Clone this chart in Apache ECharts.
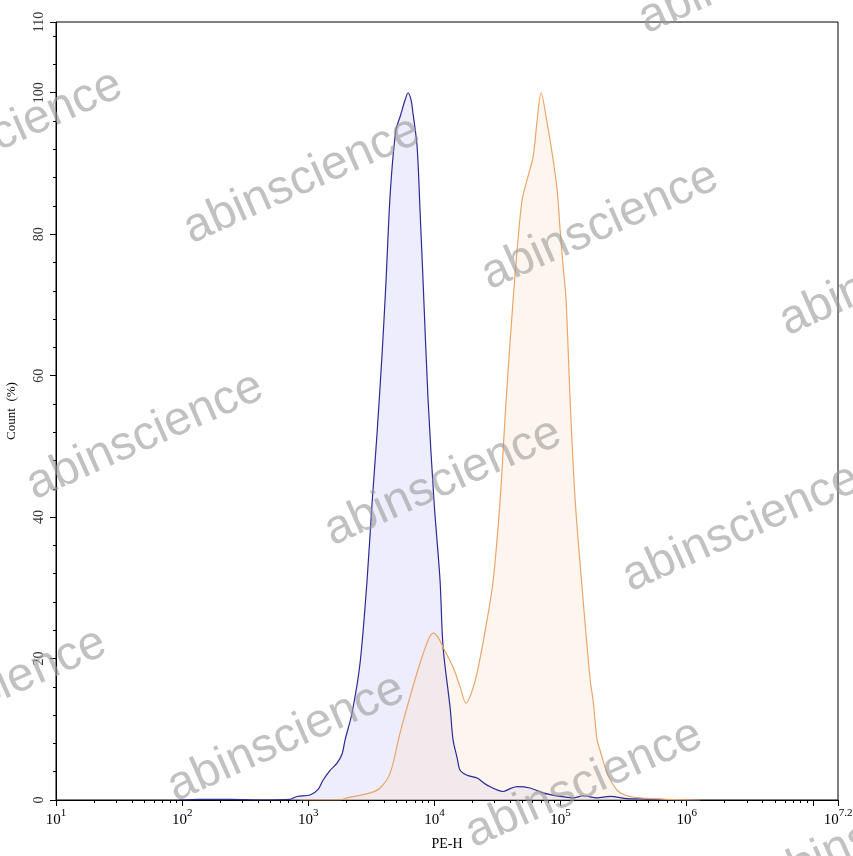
<!DOCTYPE html>
<html><head><meta charset="utf-8">
<script src="https://cdn.jsdelivr.net/npm/echarts@6/dist/echarts.min.js"></script>
<style>html,body{margin:0;padding:0;background:#fff}#c{width:853px;height:856px}</style>
</head><body><div id="c"></div>
<script>
// x values are log10(PE-H)
const blueX = [1.98,2.14,2.38,2.62,2.856,2.911,3.014,3.078,3.117,3.173,3.228,3.268,3.292,3.347,3.411,3.466,3.506,3.546,3.585,3.617,3.641,3.665,3.696,3.728,3.768,3.791,3.815,3.831,3.863,3.887,3.910,3.950,3.998,4.045,4.069,4.125,4.148,4.180,4.204,4.259,4.339,4.418,4.545,4.600,4.656,4.759,4.862,4.997,5.100,5.179,5.290,5.393,5.528,5.631,5.766,5.893,6.107];
const blueY = [0,0.1,0.1,0,0.1,0.5,0.7,1.5,2.8,4.2,5.2,6.5,8.5,12.3,19.4,31,42,52,63,73.5,83,89.5,94.8,96.6,99,100,99,97,92.4,83,73.5,56.6,42,31,21.6,13,8.5,6,4.2,3.5,3.1,2.1,1.2,1.6,1.9,1.7,1,0.5,0.3,0.6,0.3,0.5,0.2,0.15,0.1,0,0];
const orangeX = [2.935,3.252,3.308,3.490,3.569,3.649,3.728,3.807,3.887,3.950,3.990,4.029,4.069,4.148,4.204,4.251,4.291,4.339,4.418,4.466,4.521,4.569,4.624,4.656,4.695,4.735,4.783,4.814,4.846,4.894,4.933,4.973,4.997,5.021,5.044,5.076,5.116,5.179,5.235,5.259,5.290,5.314,5.370,5.449,5.528,5.631,5.845,6.107];
const orangeY = [0,0,0.3,1,1.7,3.8,9.5,14.6,19.4,22.6,23.6,23,21.6,18.8,16,13.7,15,18,25.5,31,42.4,56.6,70.7,77.8,84.8,87.7,91,96,100,95.7,91.5,86.3,80.6,75.4,70.7,56.6,42.4,28.3,17,14,8.5,7,3.8,1.4,0.6,0.3,0.1,0];
const xMajorTicks = [1,2,3,4,5,6,7,7.2];
const xTickLabels = [1,2,3,4,5,6,7.2];
const yTicks = [0,20,40,60,80,100,110];
const watermark = 'abinscience';

const xMinorTicks = [];
for (let d = 1; d <= 7; d++) for (let k = 2; k <= 9; k++) {
  const v = d + Math.log10(k);
  if (v < 7.2) xMinorTicks.push(v);
}
const zip = (xs, ys) => xs.map((x, i) => [x, ys[i]]);

// watermark lattice
const marks = [];
const base = [443, 482], u = [298, 46], v = [157, -256];
for (let i = -3; i <= 3; i++) for (let j = -3; j <= 3; j++) {
  const x = base[0] + i * u[0] + j * v[0], y = base[1] + i * u[1] + j * v[1];
  if (x > -200 && x < 1050 && y > -150 && y < 1000) {
    marks.push({type: 'text', x: x, y: y, rotation: 24 * Math.PI / 180, z: 100, silent: true,
      style: {text: watermark, fill: 'rgba(155,155,155,0.62)', font: '48px "Liberation Sans", Arial, sans-serif',
        textAlign: 'center', textVerticalAlign: 'middle'}});
  }
}

const serif = '"Liberation Serif", "Times New Roman", serif';
const chart = echarts.init(document.getElementById('c'), null, {renderer: 'canvas'});
chart.setOption({
  animation: false,
  backgroundColor: '#fff',
  grid: {left: 56, right: 15, top: 22, bottom: 56, show: true, borderColor: '#000', borderWidth: 1,
    containLabel: false, outerBoundsMode: 'none'},
  xAxis: [{
    type: 'value', min: 1, max: 7.2, position: 'bottom',
    name: 'PE-H', nameLocation: 'middle', nameGap: 37,
    nameTextStyle: {fontFamily: serif, fontSize: 14, color: '#000'},
    axisLine: {show: true, lineStyle: {color: '#000', width: 1}},
    splitLine: {show: false},
    axisTick: {show: true, inside: false, length: 6, customValues: xMajorTicks, lineStyle: {color: '#000'}},
    axisLabel: {
      customValues: xTickLabels, margin: 8, hideOverlap: false,
      formatter: (val) => '{b|10}{s|' + (Math.round(val * 10) / 10) + '}',
      rich: {
        b: {fontFamily: serif, fontSize: 15, color: '#000', lineHeight: 20, verticalAlign: 'bottom'},
        s: {fontFamily: serif, fontSize: 11, color: '#000', lineHeight: 20, verticalAlign: 'top'}
      }
    }
  }, {
    type: 'value', min: 1, max: 7.2, position: 'bottom',
    axisLine: {show: false}, splitLine: {show: false},
    axisTick: {show: true, length: 3, customValues: xMinorTicks, lineStyle: {color: '#000'}},
    axisLabel: {show: false}
  }],
  yAxis: {
    type: 'value', min: 0, max: 110, interval: 20,
    name: 'Count  (%)', nameLocation: 'middle', nameRotate: 90, nameGap: 38,
    nameTextStyle: {fontFamily: serif, fontSize: 13, color: '#000'},
    axisLine: {show: true, lineStyle: {color: '#000', width: 1}},
    splitLine: {show: false},
    axisTick: {show: true, length: 6, lineStyle: {color: '#000'}},
    minorTick: {show: true, splitNumber: 5, length: 3, lineStyle: {color: '#000'}},
    axisLabel: {rotate: 90, margin: 10, fontFamily: serif, fontSize: 14, color: '#333',
      formatter: (val) => yTicks.includes(val) ? String(val) : ''}
  },
  series: [{
    name: 'blue', type: 'line', data: zip(blueX, blueY), smooth: 0.3, showSymbol: false,
    lineStyle: {color: '#2a2a95', width: 1.2},
    areaStyle: {color: 'rgba(205,205,250,0.5)'}
  }, {
    name: 'orange', type: 'line', data: zip(orangeX, orangeY), smooth: 0.3, showSymbol: false,
    lineStyle: {color: '#e9a66a', width: 1.2},
    areaStyle: {color: 'rgba(252,225,198,0.42)'}
  }],
  graphic: marks
});
</script>
</body></html>
